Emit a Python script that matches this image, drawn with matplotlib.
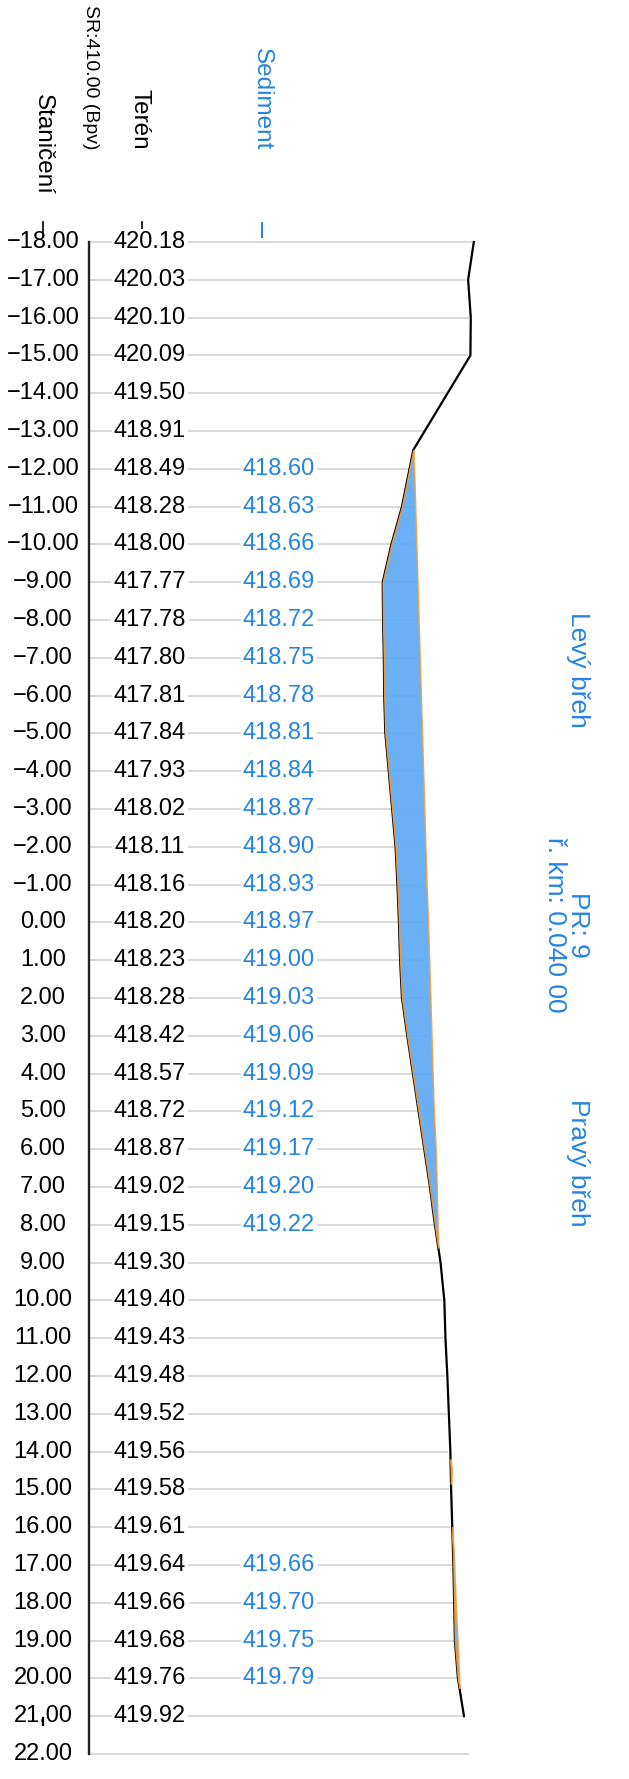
import numpy as np
import matplotlib.pyplot as plt

plt.rcParams['font.family'] = ['Liberation Sans', 'DejaVu Sans']

# table values (station -> terrain / sediment)
stations = list(range(-18, 23))
teren = [420.18, 420.03, 420.10, 420.09, 419.50, 418.91, 418.49, 418.28, 418.00, 417.77,
         417.78, 417.80, 417.81, 417.84, 417.93, 418.02, 418.11, 418.16, 418.20, 418.23,
         418.28, 418.42, 418.57, 418.72, 418.87, 419.02, 419.15, 419.30, 419.40, 419.43,
         419.48, 419.52, 419.56, 419.58, 419.61, 419.64, 419.66, 419.68, 419.76, 419.92]
sed_st = list(range(-12, 9)) + [17, 18, 19, 20]
sed_z = [418.60, 418.63, 418.66, 418.69, 418.72, 418.75, 418.78, 418.81, 418.84, 418.87,
         418.90, 418.93, 418.97, 419.00, 419.03, 419.06, 419.09, 419.12, 419.17, 419.20,
         419.22, 419.66, 419.70, 419.75, 419.79]

# profile vertices of the terrain line
prof_st = [-18, -17, -16, -15, -12.5] + list(range(-11, 22))
prof_z = [420.18, 420.03, 420.10, 420.09, 418.58] + teren[7:]

# sediment bodies (surface)
body1_st = [-12.5] + list(range(-12, 9)) + [8.6]
body1_z = [418.58] + sed_z[:21] + [419.24]
body2_st = [16, 17, 18, 19, 20, 20.25]
body2_z = [419.61, 419.66, 419.70, 419.75, 419.79, 419.80]
body3_st = [14.2, 14.5, 14.85]
body3_z = [419.565, 419.60, 419.578]

BLUE = '#2584e0'
FILL = '#5eaaf4'
EDGE = '#f0a040'
GRID = '#d9d9d9'

S = 37.8
def px2z(px):
    return 410 + (px - 89) / S
def py2s(py):
    return -18 + (py - 242) / S

fig = plt.figure(figsize=(6.29, 17.79), dpi=100)
ax = fig.add_axes([0, 0, 1, 1])
ax.set_xlim(px2z(0), px2z(629))
ax.set_ylim(py2s(1779), py2s(0))
ax.axis('off')

# surface at each station for grid lines
surf = dict(zip(stations[:-1], teren))
for s, z in zip(sed_st, sed_z):
    surf[s] = max(surf[s], z)
for s in stations:
    end = surf.get(s, 420.1) - 0.08
    ax.plot([410, end], [s, s], color=GRID, lw=1.4, zorder=1)

ax.plot([410, 410], [-18, 22], color='#222222', lw=1.7, zorder=3)

ax.plot(prof_z, prof_st, color='black', lw=1.6, zorder=4)
for bst, bz in [(body1_st, body1_z), (body2_st, body2_z), (body3_st, body3_z)]:
    base = np.interp(bst, prof_st, prof_z)
    ax.fill_betweenx(bst, base, bz, facecolor=FILL, edgecolor=EDGE, lw=1.1,
                     alpha=0.92, zorder=5)

fs = 17
for s in stations:
    ax.text(px2z(43), s, f'{s:.2f}'.replace('-', '\u2212'), ha='center', va='center',
            fontsize=fs, zorder=6)
for s, z in zip(stations, teren):
    ax.text(px2z(150), s, f'{z:.2f}', ha='center', va='center', fontsize=fs, zorder=6,
            bbox=dict(boxstyle='square,pad=0.1', fc='white', ec='none'))
for s, z in zip(sed_st, sed_z):
    ax.text(px2z(279), s, f'{z:.2f}', ha='center', va='center', fontsize=fs, color=BLUE,
            zorder=6, bbox=dict(boxstyle='square,pad=0.1', fc='white', ec='none'))

# column headers
ax.text(px2z(43), py2s(195), 'Staničení', rotation=-90, ha='center', va='bottom', fontsize=17.5)
ax.text(px2z(90), py2s(150), 'SR:410.00 (Bpv)', rotation=-90, ha='center', va='bottom', fontsize=14)
ax.text(px2z(140), py2s(150), 'Terén', rotation=-90, ha='center', va='bottom', fontsize=17.5)
ax.text(px2z(262), py2s(150), 'Sediment', rotation=-90, ha='center', va='bottom', fontsize=17.5,
        color=BLUE)
ax.plot([px2z(43)] * 2, [py2s(222), py2s(237)], color='black', lw=1.2)
ax.plot([px2z(142)] * 2, [py2s(222), py2s(237)], color='black', lw=1.2)
ax.plot([px2z(262)] * 2, [py2s(223), py2s(237)], color=BLUE, lw=1.4)
ax.plot([px2z(43)] * 2, [py2s(1718), py2s(1725)], color='black', lw=1.6)

# side labels
ax.text(px2z(578), py2s(670), 'Levý břeh', rotation=-90, ha='center', va='center', fontsize=19, color=BLUE)
ax.text(px2z(578), py2s(925), 'PR: 9', rotation=-90, ha='center', va='center', fontsize=19, color=BLUE)
ax.text(px2z(555), py2s(925), 'ř. km: 0.040 00', rotation=-90, ha='center', va='center', fontsize=19, color=BLUE)
ax.text(px2z(578), py2s(1163), 'Pravý břeh', rotation=-90, ha='center', va='center', fontsize=19, color=BLUE)

fig.savefig('out.png', dpi=100)
